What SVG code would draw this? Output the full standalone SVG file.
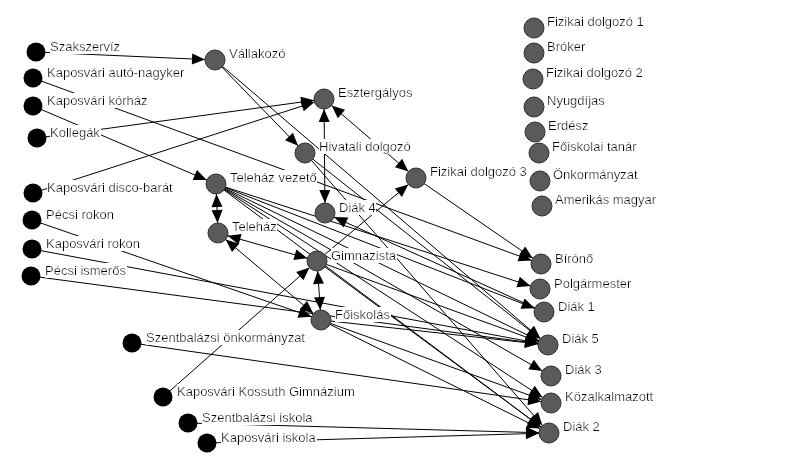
<svg xmlns="http://www.w3.org/2000/svg" width="800" height="474" viewBox="0 0 800 474">
<defs>
<marker id="ah" markerUnits="userSpaceOnUse" markerWidth="30" markerHeight="30" refX="23" refY="5.5" orient="auto-start-reverse" overflow="visible"><path d="M0,0 L13,5.5 L0,11 z" fill="#000"/></marker>
<filter id="lb" x="0" y="0" width="1" height="1"><feFlood flood-color="#fff"/><feComposite in="SourceGraphic" operator="over"/></filter>
</defs>
<style>
.e{stroke:#000;stroke-width:1;fill:none;marker-end:url(#ah)}
.b{marker-start:url(#ah)}
.src{fill:#000}
.nd{fill:#5a5a5a;stroke:#303030;stroke-width:1}
text{font-family:"Liberation Sans",Arial,sans-serif;font-size:13px;fill:#000;filter:url(#lb)}
</style>
<rect width="800" height="474" fill="#fff"/>
<g id="connectors">
<line class="e" x1="36" y1="52" x2="215" y2="60"/>
<line class="e" x1="33" y1="78" x2="541" y2="264"/>
<line class="e" x1="33" y1="106" x2="216" y2="184"/>
<line class="e" x1="37" y1="138" x2="324" y2="99"/>
<line class="e" x1="33" y1="193" x2="324" y2="99"/>
<line class="e" x1="32" y1="220" x2="321" y2="320"/>
<line class="e" x1="32" y1="249" x2="548" y2="345"/>
<line class="e" x1="31" y1="276" x2="548" y2="345"/>
<line class="e" x1="132" y1="343" x2="551" y2="403"/>
<line class="e" x1="163" y1="397" x2="317" y2="261"/>
<line class="e" x1="188" y1="423" x2="549" y2="433"/>
<line class="e" x1="207" y1="443" x2="549" y2="433"/>
<line class="e" x1="215" y1="60" x2="305" y2="153"/>
<line class="e" x1="215" y1="60" x2="548" y2="345"/>
<line class="e b" x1="325" y1="213" x2="324" y2="99"/>
<line class="e b" x1="416" y1="178" x2="324" y2="99"/>
<line class="e" x1="416" y1="178" x2="541" y2="264"/>
<line class="e" x1="317" y1="261" x2="416" y2="178"/>
<line class="e b" x1="216" y1="184" x2="218" y2="233"/>
<line class="e b" x1="218" y1="233" x2="317" y2="261"/>
<line class="e b" x1="218" y1="233" x2="321" y2="320"/>
<line class="e b" x1="317" y1="261" x2="321" y2="320"/>
<line class="e" x1="544" y1="312" x2="325" y2="213"/>
<line class="e" x1="216" y1="184" x2="540" y2="289"/>
<line class="e" x1="216" y1="184" x2="544" y2="312"/>
<line class="e" x1="216" y1="184" x2="548" y2="345"/>
<line class="e" x1="216" y1="184" x2="551" y2="376"/>
<line class="e" x1="216" y1="184" x2="551" y2="403"/>
<line class="e" x1="216" y1="184" x2="549" y2="433"/>
<line class="e" x1="305" y1="153" x2="548" y2="345"/>
<line class="e" x1="305" y1="153" x2="549" y2="433"/>
<line class="e" x1="317" y1="261" x2="548" y2="345"/>
<line class="e" x1="317" y1="261" x2="549" y2="433"/>
<line class="e" x1="321" y1="320" x2="548" y2="345"/>
<line class="e" x1="321" y1="320" x2="551" y2="403"/>
<line class="e" x1="321" y1="320" x2="549" y2="433"/>
</g>
<g id="n_szak"><circle class="src" cx="36" cy="52" r="9.5"/><text x="50" y="51">Szakszervíz</text></g>
<g id="n_auto"><circle class="src" cx="33" cy="78" r="9.5"/><text x="47" y="77">Kaposvári autó-nagyker</text></g>
<g id="n_korh"><circle class="src" cx="33" cy="106" r="9.5"/><text x="47" y="105">Kaposvári kórház</text></g>
<g id="n_koll"><circle class="src" cx="37" cy="138" r="9.5"/><text x="50" y="137">Kollegák</text></g>
<g id="n_disco"><circle class="src" cx="33" cy="193" r="9.5"/><text x="47" y="192">Kaposvári disco-barát</text></g>
<g id="n_pecsirokon"><circle class="src" cx="32" cy="220" r="9.5"/><text x="46" y="219">Pécsi rokon</text></g>
<g id="n_kaprokon"><circle class="src" cx="32" cy="249" r="9.5"/><text x="46" y="248">Kaposvári rokon</text></g>
<g id="n_pecsism"><circle class="src" cx="31" cy="276" r="9.5"/><text x="45" y="275">Pécsi ismerős</text></g>
<g id="n_szonk"><circle class="src" cx="132" cy="343" r="9.5"/><text x="146" y="342">Szentbalázsi önkormányzat</text></g>
<g id="n_kossuth"><circle class="src" cx="163" cy="397" r="9.5"/><text x="177" y="396">Kaposvári Kossuth Gimnázium</text></g>
<g id="n_szisk"><circle class="src" cx="188" cy="423" r="9.5"/><text x="202" y="422">Szentbalázsi iskola</text></g>
<g id="n_kapisk"><circle class="src" cx="207" cy="443" r="9.5"/><text x="221" y="442">Kaposvári iskola</text></g>
<g id="n_vall"><circle class="nd" cx="215" cy="60" r="10"/><text x="229" y="58">Vállakozó</text></g>
<g id="n_eszt"><circle class="nd" cx="324" cy="99" r="10"/><text x="338" y="97">Esztergályos</text></g>
<g id="n_hiv"><circle class="nd" cx="305" cy="153" r="10"/><text x="319" y="151">Hivatali dolgozó</text></g>
<g id="n_fiz3"><circle class="nd" cx="416" cy="178" r="10"/><text x="430" y="176">Fizikai dolgozó 3</text></g>
<g id="n_tv"><circle class="nd" cx="216" cy="184" r="10"/><text x="230" y="182">Teleház vezető</text></g>
<g id="n_diak4"><circle class="nd" cx="325" cy="213" r="10"/><text x="339" y="212">Diák 4</text></g>
<g id="n_telehaz"><circle class="nd" cx="218" cy="233" r="10"/><text x="232" y="231">Teleház</text></g>
<g id="n_gimn"><circle class="nd" cx="317" cy="261" r="10"/><text x="331" y="260">Gimnazista</text></g>
<g id="n_foisk"><circle class="nd" cx="321" cy="320" r="10"/><text x="335" y="319">Főiskolás</text></g>
<g id="n_biro"><circle class="nd" cx="541" cy="264" r="10"/><text x="555" y="263">Bírónő</text></g>
<g id="n_polg"><circle class="nd" cx="540" cy="289" r="10"/><text x="554" y="288">Polgármester</text></g>
<g id="n_diak1"><circle class="nd" cx="544" cy="312" r="10"/><text x="558" y="311">Diák 1</text></g>
<g id="n_diak5"><circle class="nd" cx="548" cy="345" r="10"/><text x="562" y="343">Diák 5</text></g>
<g id="n_diak3"><circle class="nd" cx="551" cy="376" r="10"/><text x="565" y="374">Diák 3</text></g>
<g id="n_kozalk"><circle class="nd" cx="551" cy="403" r="10"/><text x="565" y="401">Közalkalmazott</text></g>
<g id="n_diak2"><circle class="nd" cx="549" cy="433" r="10"/><text x="563" y="431">Diák 2</text></g>
<g id="n_fiz1"><circle class="nd" cx="534" cy="28" r="10"/><text x="547" y="26">Fizikai dolgozó 1</text></g>
<g id="n_brok"><circle class="nd" cx="534" cy="53" r="10"/><text x="547" y="51">Bróker</text></g>
<g id="n_fiz2"><circle class="nd" cx="533" cy="79" r="10"/><text x="546" y="77">Fizikai dolgozó 2</text></g>
<g id="n_nyug"><circle class="nd" cx="534" cy="107" r="10"/><text x="547" y="105">Nyugdíjas</text></g>
<g id="n_erd"><circle class="nd" cx="535" cy="132" r="10"/><text x="548" y="130">Erdész</text></g>
<g id="n_ftan"><circle class="nd" cx="539" cy="153" r="10"/><text x="552" y="151">Főiskolai tanár</text></g>
<g id="n_onk"><circle class="nd" cx="540" cy="181" r="10"/><text x="553" y="179">Önkormányzat</text></g>
<g id="n_amer"><circle class="nd" cx="542" cy="206" r="10"/><text x="555" y="204">Amerikás magyar</text></g>
</svg>
